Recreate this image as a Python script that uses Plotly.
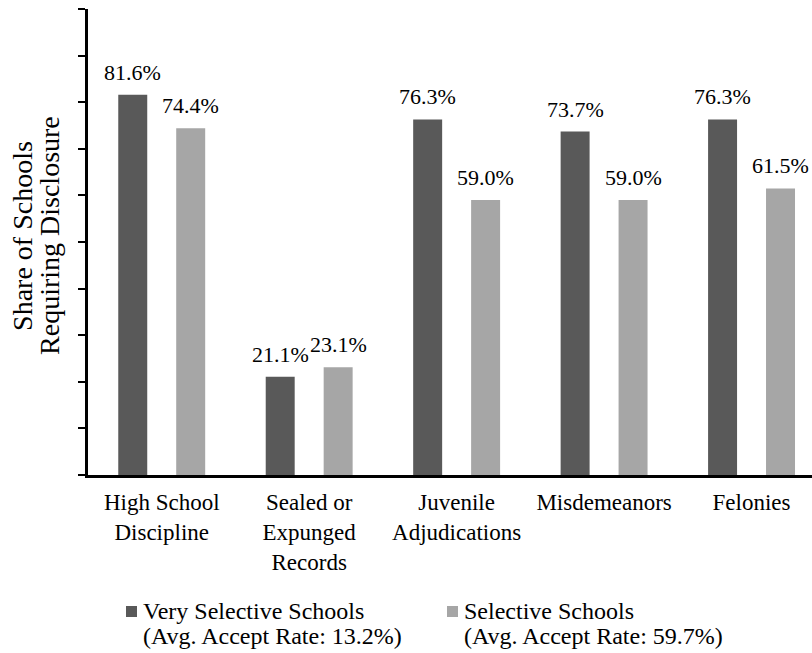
import plotly.graph_objects as go

categories = [
    "High School<br>Discipline",
    "Sealed or<br>Expunged<br>Records",
    "Juvenile<br>Adjudications",
    "Misdemeanors",
    "Felonies",
]
very_selective = [81.6, 21.1, 76.3, 73.7, 76.3]
selective = [74.4, 23.1, 59.0, 59.0, 61.5]
series_names = ["Very Selective Schools", "Selective Schools"]
series_notes = ["(Avg. Accept Rate: 13.2%)", "(Avg. Accept Rate: 59.7%)"]
series_colors = ["#595959", "#a6a6a6"]
y_ticks = list(range(0, 101, 10))
y_title_lines = ["Share of Schools", "Requiring Disclosure"]

FONT = "Liberation Serif"
L, R, T, B, W, H = 88, 0, 9, 178, 812, 653
PW, PH = W - L - R, H - T - B


def px_x(px):
    return (px - L) / PW


def px_y(py):
    return (H - B - py) / PH


fig = go.Figure()
for name, vals, color in zip(series_names, [very_selective, selective], series_colors):
    fig.add_trace(go.Bar(
        x=categories, y=vals, name=name, showlegend=False,
        marker=dict(color=color, line=dict(width=0)),
    ))

# value labels above each bar (offset left/right of the group centre)
for vals, shift in [(very_selective, -29), (selective, 29)]:
    for cat, v in zip(categories, vals):
        fig.add_annotation(
            x=cat, y=v, xref="x", yref="y", text=f"{v:.1f}%",
            showarrow=False, xshift=shift, yanchor="bottom", yshift=8,
            font=dict(family=FONT, size=22, color="black"),
        )

# two-line vertical axis title, set line by line for tight leading
for line, xpix in zip(y_title_lines, [23, 50]):
    fig.add_annotation(
        x=px_x(xpix), y=0.513, xref="paper", yref="paper", text=line,
        textangle=-90, showarrow=False, xanchor="center", yanchor="middle",
        font=dict(family=FONT, size=28, color="black"),
    )

# legend: colour swatch plus two text lines per series
for name, note, color, x0 in zip(series_names, series_notes, series_colors, [126, 447]):
    fig.add_shape(
        type="rect", xref="paper", yref="paper",
        x0=px_x(x0), x1=px_x(x0 + 11), y0=px_y(606), y1=px_y(617),
        fillcolor=color, line=dict(width=0),
    )
    for text, ypix in [(name, 611), (note, 636)]:
        fig.add_annotation(
            x=px_x(x0 + 15), y=px_y(ypix), xref="paper", yref="paper",
            text=text, showarrow=False, xanchor="left", yanchor="middle",
            font=dict(family=FONT, size=24, color="black"),
        )

fig.update_layout(
    width=W, height=H,
    margin=dict(l=L, r=R, t=T, b=B, autoexpand=False),
    paper_bgcolor="white", plot_bgcolor="white",
    barmode="group", bargap=0.214, bargroupgap=0.5,
    font=dict(family=FONT, color="black"),
    showlegend=False,
    xaxis=dict(
        range=[-0.5, 4.41], showline=True, linecolor="black", linewidth=2.5,
        ticks="", tickfont=dict(family=FONT, size=23, color="black"),
        ticklabelstandoff=5,
        showgrid=False, zeroline=False,
    ),
    yaxis=dict(
        range=[0, 100], tickvals=y_ticks, showticklabels=False,
        ticks="outside", ticklen=7, tickwidth=2, tickcolor="black",
        showline=True, linecolor="black", linewidth=2.5,
        showgrid=False, zeroline=False,
    ),
)

fig.write_html("out.html")
